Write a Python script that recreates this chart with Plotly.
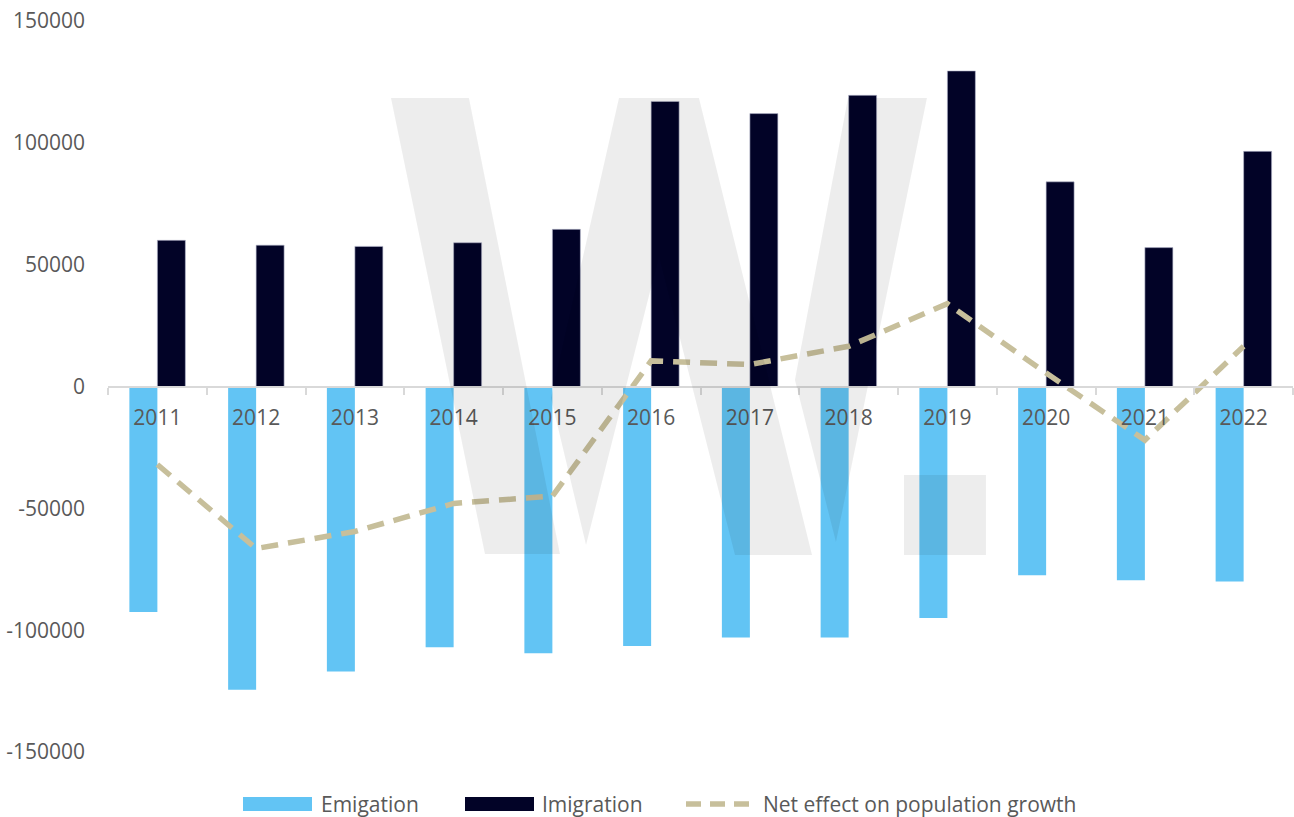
import plotly.graph_objects as go

# ---------------- data ----------------
years = ["2011", "2012", "2013", "2014", "2015", "2016",
         "2017", "2018", "2019", "2020", "2021", "2022"]
emigration = [-92500, -124500, -117000, -107000, -109500, -106500,
              -103000, -103000, -95000, -77500, -79500, -80000]
immigration = [60000, 58000, 57500, 59000, 64500, 117000,
               112000, 119500, 129500, 84000, 57000, 96500]
net_effect = [-32000, -66500, -59500, -48000, -45000, 10500,
              9000, 16500, 34000, 5500, -22000, 16500]
y_tick_values = [-150000, -100000, -50000, 0, 50000, 100000, 150000]
y_tick_labels = ["-150000", "-100000", "-50000", "0", "50000", "100000", "150000"]
series_names = ["Emigation", "Imigration", "Net effect on population growth"]

# ---------------- styles ----------------
C_EMI = "#62C4F4"
C_IMM = "#020327"
C_NET = "#C7BF9B"
FONT = "Open Sans, Noto Sans, sans-serif"
GREY_TXT = "#595959"

W, H = 1294, 817
M_L, M_R, M_T, M_B = 108, 1, 21, 65
PW, PH = W - M_L - M_R, H - M_T - M_B


def to_paper(px, py):
    return (px - M_L) / PW, (H - M_B - py) / PH


fig = go.Figure()
fig.add_trace(go.Bar(x=years, y=emigration, name=series_names[0],
                     marker=dict(color=C_EMI, line=dict(width=0))))
fig.add_trace(go.Bar(x=years, y=immigration, name=series_names[1],
                     marker=dict(color=C_IMM, line=dict(width=0.6, color="#B8BACF"))))
fig.add_trace(go.Scatter(x=years, y=net_effect, name=series_names[2],
                         mode="lines",
                         line=dict(color=C_NET, width=5.5, dash="17px,10px")))

# ---------------- watermark logo "W." (decoration, pixel outline) ----------------
logo_polys = [
    [(391, 98), (469, 98), (560, 554), (485, 554)],
    [(619, 98), (699, 98), (812, 555), (735, 555), (659, 256), (586, 545), (551, 398)],
    [(848, 98), (927, 98), (836, 542), (795, 380)],
    [(904, 475), (986, 475), (986, 555), (904, 555)],
]

shapes = []
for poly in logo_polys:
    pts = [to_paper(px, py) for px, py in poly]
    path = "M " + " L ".join(f"{x:.4f},{y:.4f}" for x, y in pts) + " Z"
    shapes.append(dict(type="path", path=path, xref="paper", yref="paper",
                       fillcolor="rgba(0,0,0,0.07)", line=dict(width=0),
                       layer="above"))

# ---------------- legend (drawn manually, wide swatches as in the original) ----------------
annotations = []
LEG_Y = 804
leg_items = [  # (swatch x0, swatch x1, text x, kind, colour)
    (243, 312, 319, "bar", C_EMI),
    (465, 534, 540, "bar", C_IMM),
    (686, 752, 761, "line", C_NET),
]
for name, (sx0, sx1, tx, kind, col) in zip(series_names, leg_items):
    x0, y0 = to_paper(sx0, LEG_Y + 7)
    x1, y1 = to_paper(sx1, LEG_Y - 7)
    if kind == "bar":
        shapes.append(dict(type="rect", xref="paper", yref="paper", x0=x0, x1=x1, y0=y0, y1=y1,
                           fillcolor=col, line=dict(width=0), layer="above"))
    else:
        _, ym = to_paper(sx0, LEG_Y)
        shapes.append(dict(type="line", xref="paper", yref="paper", x0=x0, x1=x1, y0=ym, y1=ym,
                           line=dict(color=col, width=5.5, dash="15px,9px"), layer="above"))
    xt, yt = to_paper(tx, LEG_Y)
    annotations.append(dict(text=name, x=xt, y=yt, xref="paper", yref="paper",
                            xanchor="left", yanchor="middle", showarrow=False,
                            font=dict(size=21, color=GREY_TXT, family=FONT)))

fig.update_layout(
    width=W, height=H,
    margin=dict(l=M_L, r=M_R, t=M_T, b=M_B, autoexpand=False),
    paper_bgcolor="white", plot_bgcolor="white",
    barmode="group", bargap=0.433, bargroupgap=0,
    font=dict(family=FONT, color=GREY_TXT, size=21),
    shapes=shapes, annotations=annotations,
    showlegend=False,
    xaxis=dict(type="category", range=[-0.5, 11.5], anchor="free", position=0.5,
               automargin=False,
               showline=True, linecolor="#D9D9D9", linewidth=2,
               ticks="outside", tickson="boundaries", ticklen=7, tickcolor="#D9D9D9",
               tickwidth=2, showgrid=False, zeroline=False,
               tickfont=dict(size=21, color=GREY_TXT, family=FONT),
               ticklabelstandoff=12),
    yaxis=dict(range=[-150000, 150000], tickvals=y_tick_values, ticktext=y_tick_labels,
               automargin=False,
               showgrid=False, zeroline=False, showline=False, ticks="",
               tickfont=dict(size=21, color=GREY_TXT, family=FONT),
               ticklabelstandoff=22),
)

fig.write_html("out.html",
               config={"displayModeBar": False},
               post_script="document.body.style.margin='0';document.body.style.overflow='hidden';")
